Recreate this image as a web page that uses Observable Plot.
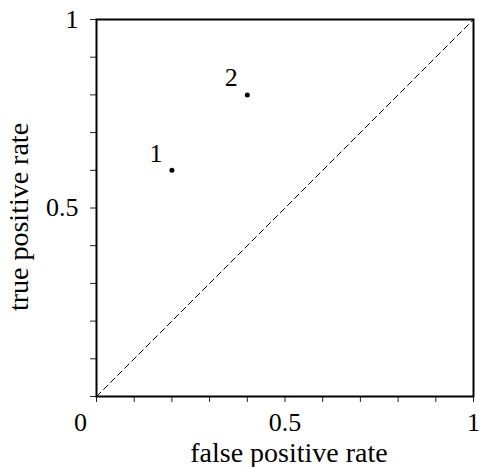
<!DOCTYPE html>
<html>
<head>
<meta charset="utf-8">
<script src="https://cdn.jsdelivr.net/npm/d3@7"></script>
<script src="https://cdn.jsdelivr.net/npm/@observablehq/plot@0.6"></script>
<style>
  html, body { margin: 0; padding: 0; background: #fff; }
</style>
</head>
<body>
<div id="chart"></div>
<script>
// Classifier results in ROC space
const classifiers = ["1", "2"];
const falsePositiveRate = [0.2, 0.4];
const truePositiveRate = [0.6, 0.8];

// Chance line endpoints
const chance = [0, 1];

// Axis ticks and labels
const minorTicks = [0, 0.1, 0.2, 0.3, 0.4, 0.5, 0.6, 0.7, 0.8, 0.9, 1];
const xTickLabels = [0.5, 1];
const yTickLabels = [0.5, 1];
const cornerLabel = [0];

const points = classifiers.map((name, i) => ({
  name, fpr: falsePositiveRate[i], tpr: truePositiveRate[i]
}));

const serif = "'Liberation Serif', 'Times New Roman', serif";
const numSize = 26;
const titleSize = 28;

const chart = Plot.plot({
  width: 480,
  height: 467,
  marginLeft: 96,
  marginRight: 7,
  marginTop: 19,
  marginBottom: 71,
  style: { fontFamily: serif, fontSize: "26px", color: "black", background: "white" },
  x: { domain: [0, 1] },
  y: { domain: [0, 1] },
  marks: [
    // small outward ticks every 0.1
    Plot.axisX({ ticks: minorTicks, tickSize: 6, text: null, stroke: "#222", strokeWidth: 1, label: null }),
    Plot.axisY({ ticks: minorTicks, tickSize: 6, text: null, stroke: "#222", strokeWidth: 1, label: null }),
    // numeric labels
    Plot.axisX({ ticks: xTickLabels, tickSize: 0, tickPadding: 16, tickFormat: d => String(d), fontSize: numSize, label: null }),
    Plot.axisY({ ticks: yTickLabels, tickSize: 0, tickPadding: 18, tickFormat: d => String(d), fontSize: numSize, label: null }),
    Plot.text(cornerLabel, { x: d => d, frameAnchor: "bottom", lineAnchor: "middle", dx: -16, dy: 26, text: d => String(d), fontSize: numSize }),
    // axis titles
    Plot.text(["false positive rate"], { frameAnchor: "bottom", lineAnchor: "middle", textAnchor: "middle", dx: 4, dy: 57, text: d => d, fontSize: titleSize }),
    Plot.text(["true positive rate"], { frameAnchor: "left", lineAnchor: "middle", textAnchor: "middle", dx: -77, dy: 9, rotate: -90, text: d => d, fontSize: titleSize }),
    // chance diagonal
    Plot.line(chance.map(v => ({ v })), { x: "v", y: "v", stroke: "black", strokeWidth: 1, strokeDasharray: "6,4" }),
    // classifiers
    Plot.dot(points, { x: "fpr", y: "tpr", r: 2.5, fill: "black" }),
    Plot.text(points, { x: "fpr", y: "tpr", text: "name", dx: -16, dy: -17, fontSize: numSize }),
    Plot.frame({ stroke: "black", strokeWidth: 2 })
  ]
});

document.getElementById("chart").appendChild(chart);
</script>
</body>
</html>
